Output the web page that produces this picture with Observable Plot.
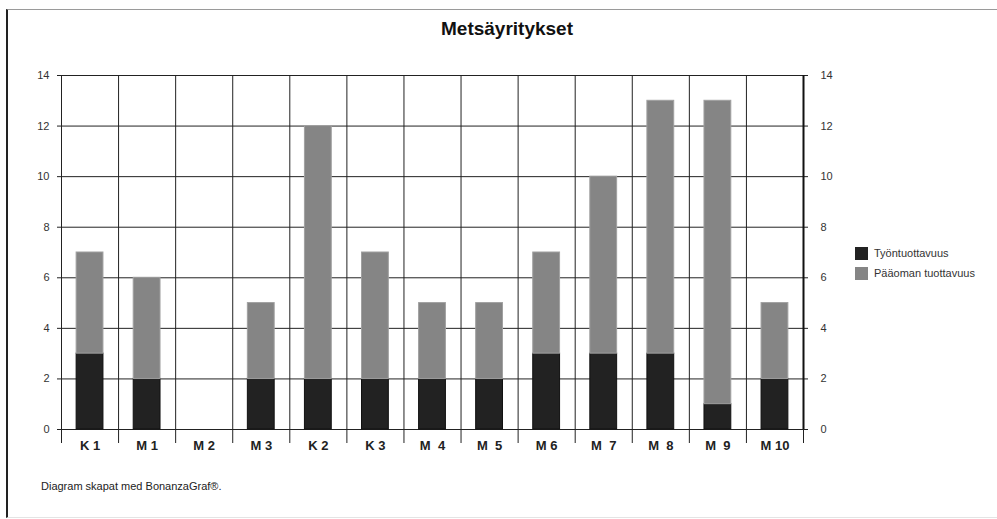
<!DOCTYPE html>
<html>
<head>
<meta charset="utf-8">
<script src="https://cdn.jsdelivr.net/npm/d3@7"></script>
<script src="https://cdn.jsdelivr.net/npm/@observablehq/plot@0.6"></script>
<style>
  body { margin: 0; background: #fff; font-family: "Liberation Sans", Arial, sans-serif; }
  #wrap { position: relative; width: 997px; height: 519px; overflow: hidden; }
  #border { position: absolute; left: 6px; top: 9px; right: 0; bottom: 1px; border-top: 1px solid #9a9a9a; border-left: 2px solid #222; border-bottom: 1px solid #e4e4e4; }
  #title { position: absolute; top: 18px; left: 0; width: 1014px; text-align: center; font-weight: bold; font-size: 19px; color: #111; }
  #legend { position: absolute; left: 855px; top: 243px; font-size: 11px; color: #333; }
  #legend .row { display: flex; align-items: center; height: 20px; }
  #legend .sw { width: 13px; height: 13px; margin-right: 6px; }
  #caption { position: absolute; left: 41px; top: 480px; font-size: 11px; color: #222; }
  svg text { white-space: pre; }
</style>
</head>
<body>
<div id="wrap">
  <div id="chart"></div>
  <div id="border"></div>
  <div id="title">Metsäyritykset</div>
  <div id="legend"></div>
  <div id="caption">Diagram skapat med BonanzaGraf®.</div>
</div>
<script>
const categories = ["K 1", "M 1", "M 2", "M 3", "K 2", "K 3", "M  4", "M  5", "M 6", "M  7", "M  8", "M  9", "M 10"];
const tyontuottavuus = [3, 2, 0, 2, 2, 2, 2, 2, 3, 3, 3, 1, 2];
const paaomanTuottavuus = [4, 4, 0, 3, 10, 5, 3, 3, 4, 7, 10, 12, 3];
const yTicks = [0, 2, 4, 6, 8, 10, 12, 14];
const seriesNames = ["Työntuottavuus", "Pääoman tuottavuus"];
const seriesColors = ["#222222", "#858585"];

const rows = [];
categories.forEach((c, i) => {
  rows.push({cat: c, i, series: seriesNames[0], y1: 0, y2: tyontuottavuus[i]});
  rows.push({cat: c, i, series: seriesNames[1], y1: tyontuottavuus[i], y2: tyontuottavuus[i] + paaomanTuottavuus[i]});
});
const boundaries = d3.range(categories.length + 1);
const centers = categories.map((c, i) => i + 0.5);

const chart = Plot.plot({
  width: 997,
  height: 519,
  marginLeft: 61,
  marginRight: 194,
  marginTop: 75,
  marginBottom: 90,
  style: {fontFamily: "Liberation Sans, Arial, sans-serif", background: "transparent"},
  x: {type: "linear", domain: [0, categories.length]},
  y: {domain: [0, 14]},
  color: {domain: seriesNames, range: seriesColors},
  marks: [
    Plot.ruleY(yTicks, {y: d => d, stroke: "#222", strokeOpacity: 1, insetLeft: -4, insetRight: -5}),
    Plot.ruleX(boundaries, {x: d => d, y1: 0, y2: 14, stroke: "#222"}),
    Plot.axisX(boundaries, {anchor: "bottom", tickSize: 14, stroke: "#222", strokeOpacity: 1, tickFormat: () => "", label: null}),
    Plot.rectY(rows.filter(r => r.y2 > r.y1), {
      x1: d => d.i + 0.265, x2: d => d.i + 0.735, y1: "y1", y2: "y2",
      fill: "series", stroke: d => d.series === seriesNames[1] ? "#a0a0a0" : "#111", strokeWidth: 1
    }),
    Plot.ruleX([categories.length], {x: d => d, y1: 0, y2: 14, stroke: "#111", strokeWidth: 2}),
    Plot.axisY(yTicks, {anchor: "left", tickSize: 0, tickPadding: 12, fontSize: 11, fill: "#333", label: null}),
    Plot.axisY(yTicks, {anchor: "right", tickSize: 0, tickPadding: 17, fontSize: 11, fill: "#333", label: null}),
    Plot.axisX(centers, {anchor: "bottom", tickSize: 0, tickPadding: 11, fontSize: 13, fontWeight: "bold", fill: "#222",
      tickFormat: d => categories[Math.floor(d)], label: null})
  ]
});
document.getElementById("chart").appendChild(chart);

const legend = document.getElementById("legend");
seriesNames.forEach((n, k) => {
  const row = document.createElement("div");
  row.className = "row";
  row.innerHTML = `<div class="sw" style="background:${seriesColors[k]}"></div><span>${n}</span>`;
  legend.appendChild(row);
});
</script>
</body>
</html>
